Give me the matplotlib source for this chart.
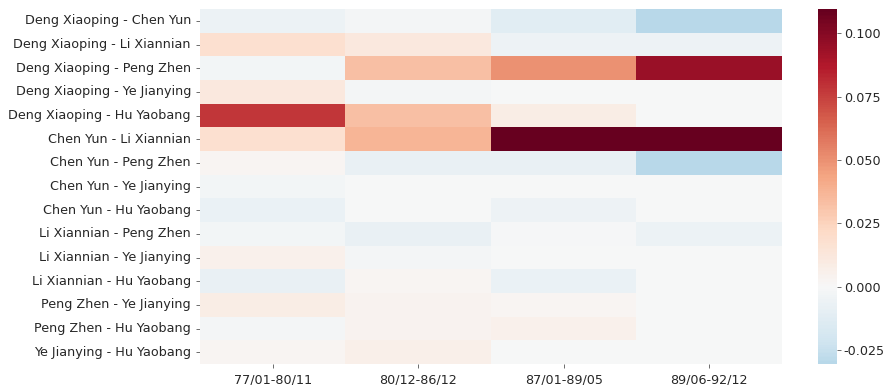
import matplotlib
matplotlib.use("Agg")
import matplotlib.pyplot as plt
import numpy as np
import pandas as pd
import seaborn as sns

PAIRS = [
    "Deng Xiaoping - Chen Yun",
    "Deng Xiaoping - Li Xiannian",
    "Deng Xiaoping - Peng Zhen",
    "Deng Xiaoping - Ye Jianying",
    "Deng Xiaoping - Hu Yaobang",
    "Chen Yun - Li Xiannian",
    "Chen Yun - Peng Zhen",
    "Chen Yun - Ye Jianying",
    "Chen Yun - Hu Yaobang",
    "Li Xiannian - Peng Zhen",
    "Li Xiannian - Ye Jianying",
    "Li Xiannian - Hu Yaobang",
    "Peng Zhen - Ye Jianying",
    "Peng Zhen - Hu Yaobang",
    "Ye Jianying - Hu Yaobang",
]
PERIODS = ["77/01-80/11", "80/12-86/12", "87/01-89/05", "89/06-92/12"]

p1 = [-0.006, 0.018, -0.003, 0.012, 0.078, 0.018, 0.002, -0.003, -0.007,
      -0.003, 0.006, -0.008, 0.008, -0.002, 0.002]
p2 = [-0.002, 0.012, 0.033, -0.002, 0.033, 0.037, -0.008, 0.000, 0.000,
      -0.008, -0.002, 0.002, 0.004, 0.004, 0.007]
p3 = [-0.012, -0.005, 0.050, 0.000, 0.008, 0.109, -0.008, 0.000, -0.005,
      -0.001, 0.000, -0.007, 0.002, 0.006, 0.000]
p4 = [-0.030, -0.005, 0.094, 0.000, 0.000, 0.109, -0.030, 0.000, 0.000,
      -0.006, 0.000, 0.000, 0.000, 0.000, 0.000]

df = pd.DataFrame(np.column_stack([p1, p2, p3, p4]), index=PAIRS, columns=PERIODS)

sns.set_style("ticks")
plt.rcParams["font.family"] = ["DejaVu Sans"]

fig = plt.figure(figsize=(8.87, 3.85), dpi=100)
ax = fig.add_axes([0.2255, 0.0545, 0.656, 0.922])
cax = fig.add_axes([0.922, 0.0545, 0.0215, 0.922])

sns.heatmap(df, ax=ax, cbar_ax=cax, cmap="RdBu_r", center=0,
            vmin=-0.0305, vmax=0.1095)
ax.tick_params(axis="both", labelsize=9.2, length=3, width=0.6, color="#555555")
ax.set_yticklabels(PAIRS, rotation=0)
ax.set_xticklabels(PERIODS, rotation=0)
cax.set_yticks([-0.025, 0.0, 0.025, 0.05, 0.075, 0.1])
cax.set_yticklabels(["-0.025", "0.000", "0.025", "0.050", "0.075", "0.100"])
cax.tick_params(labelsize=9.2, length=3, width=0.6, color="#555555", pad=2)

fig.savefig("out.png", dpi=100)
